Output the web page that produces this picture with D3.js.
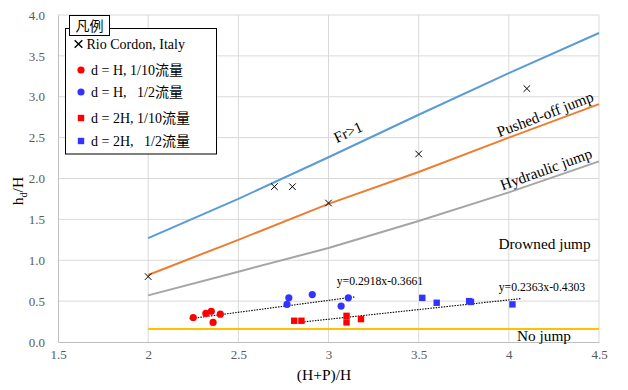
<!DOCTYPE html>
<html lang="ja">
<head>
<meta charset="UTF-8">
<title>hd/H vs (H+P)/H</title>
<script src="https://d3js.org/d3.v7.min.js"></script>
<style>
  body { margin: 0; background: #fff; }
  svg text { font-family: "Liberation Serif", "Noto Sans CJK JP", serif; }
</style>
</head>
<body>
<svg width="628" height="390"></svg>
<script>
// boundary curves
const curveX = [2.0, 2.5, 3.0, 3.5, 4.0, 4.5];
const froudeY = [1.27, 1.75, 2.26, 2.78, 3.29, 3.78];
const pushedY = [0.82, 1.25, 1.69, 2.08, 2.50, 2.91];
const hydraulicY = [0.57, 0.86, 1.15, 1.48, 1.83, 2.21];
const noJumpY = 0.16;

// Rio Cordon field points
const rioX = [2.0, 2.7, 2.8, 3.0, 3.5, 4.1];
const rioY = [0.8, 1.9, 1.9, 1.7, 2.3, 3.1];

// d = H
const h10X = [2.25, 2.32, 2.35, 2.40, 2.36];
const h10Y = [0.30, 0.35, 0.375, 0.34, 0.24];
const h2X = [2.78, 2.77, 2.91, 3.07, 3.11];
const h2Y = [0.54, 0.46, 0.58, 0.44, 0.54];

// d = 2H
const d10X = [2.81, 2.85, 3.10, 3.10, 3.18];
const d10Y = [0.26, 0.26, 0.32, 0.24, 0.28];
const d2X = [3.52, 3.60, 3.78, 3.79, 4.02];
const d2Y = [0.54, 0.48, 0.50, 0.49, 0.46];

// fitted lines
const fitH = {a: 0.2918, b: -0.3661, x0: 2.23, x1: 3.15, label: "y=0.2918x-0.3661"};
const fit2H = {a: 0.2363, b: -0.4303, x0: 2.85, x1: 4.07, label: "y=0.2363x-0.4303"};

const xTicks = [1.5, 2, 2.5, 3, 3.5, 4, 4.5];
const yTicks = [0, 0.5, 1, 1.5, 2, 2.5, 3, 3.5, 4];

const svg = d3.select("svg");
const x = d3.scaleLinear().domain([1.5, 4.5]).range([58, 599]);
const y = d3.scaleLinear().domain([0, 4]).range([342, 15]);

// gridlines
svg.append("g").selectAll("line").data(xTicks.slice(1)).join("line")
  .attr("x1", d => x(d)).attr("x2", d => x(d))
  .attr("y1", y(0)).attr("y2", y(4))
  .attr("stroke", "#d9d9d9");
svg.append("g").selectAll("line").data(yTicks.slice(1)).join("line")
  .attr("x1", x(1.5)).attr("x2", x(4.5))
  .attr("y1", d => y(d)).attr("y2", d => y(d))
  .attr("stroke", "#d9d9d9");

// axes
const xAxis = svg.append("g")
  .attr("transform", `translate(0,${y(0)})`)
  .call(d3.axisBottom(x).tickValues(xTicks).tickSize(0).tickPadding(8).tickFormat(d => String(d)));
const yAxis = svg.append("g")
  .attr("transform", `translate(${x(1.5)},0)`)
  .call(d3.axisLeft(y).tickValues(yTicks).tickSize(0).tickPadding(13).tickFormat(d3.format(".1f")));
[xAxis, yAxis].forEach(g => {
  g.select(".domain").attr("stroke", "#bfbfbf");
  g.selectAll("text").attr("fill", "#595959").style("font-size", "13px")
    .style("font-family", "Liberation Serif, serif");
});

// boundary lines
const line = d3.line().x(d => x(d[0])).y(d => y(d[1]));
const curves = [
  {ys: froudeY, color: "#5b9bd5"},
  {ys: pushedY, color: "#ed7d31"},
  {ys: hydraulicY, color: "#a5a5a5"}
];
curves.forEach(c => {
  svg.append("path")
    .datum(curveX.map((v, i) => [v, c.ys[i]]))
    .attr("d", line).attr("fill", "none")
    .attr("stroke", c.color).attr("stroke-width", 2);
});
svg.append("path")
  .datum([[2.0, noJumpY], [4.5, noJumpY]])
  .attr("d", line).attr("fill", "none")
  .attr("stroke", "#ffc000").attr("stroke-width", 2);

// trendlines
[fitH, fit2H].forEach(f => {
  svg.append("path")
    .datum([[f.x0, f.a * f.x0 + f.b], [f.x1, f.a * f.x1 + f.b]])
    .attr("d", line).attr("fill", "none")
    .attr("stroke", "#000").attr("stroke-width", 1.1)
    .attr("stroke-dasharray", "1.5,1.2");
});
svg.append("text").attr("x", 380).attr("y", 285).attr("text-anchor", "middle")
  .style("font-size", "11.7px").text(fitH.label);
svg.append("text").attr("x", 542).attr("y", 291).attr("text-anchor", "middle")
  .style("font-size", "11.7px").text(fit2H.label);

// markers
const pts = (xs, ys) => xs.map((v, i) => [v, ys[i]]);
svg.append("g").selectAll("circle").data(pts(h10X, h10Y)).join("circle")
  .attr("cx", d => x(d[0])).attr("cy", d => y(d[1])).attr("r", 3.6).attr("fill", "#ff0000");
svg.append("g").selectAll("circle").data(pts(h2X, h2Y)).join("circle")
  .attr("cx", d => x(d[0])).attr("cy", d => y(d[1])).attr("r", 3.6).attr("fill", "#3333ff");
svg.append("g").selectAll("rect").data(pts(d10X, d10Y)).join("rect")
  .attr("x", d => x(d[0]) - 3.2).attr("y", d => y(d[1]) - 3.2)
  .attr("width", 6.4).attr("height", 6.4).attr("fill", "#ff0000");
svg.append("g").selectAll("rect").data(pts(d2X, d2Y)).join("rect")
  .attr("x", d => x(d[0]) - 3.2).attr("y", d => y(d[1]) - 3.2)
  .attr("width", 6.4).attr("height", 6.4).attr("fill", "#3333ff");
const cross = d3.symbol().type(d3.symbolX).size(30);
svg.append("g").selectAll("path").data(pts(rioX, rioY)).join("path")
  .attr("transform", d => `translate(${x(d[0])},${y(d[1])})`)
  .attr("d", cross).attr("fill", "none").attr("stroke", "#000").attr("stroke-width", 1);

// region labels
const regionLabels = [
  {t: "Fr>1", cx: 348, cy: 132, rot: -25},
  {t: "Pushed-off jump", cx: 545, cy: 114, rot: -21},
  {t: "Hydraulic jump", cx: 546, cy: 169, rot: -20},
  {t: "Drowned jump", cx: 544.5, cy: 244, rot: 0},
  {t: "No jump", cx: 544, cy: 336, rot: 0}
];
svg.append("g").selectAll("text").data(regionLabels).join("text")
  .attr("transform", d => `translate(${d.cx},${d.cy}) rotate(${d.rot})`)
  .attr("text-anchor", "middle").attr("dy", "0.35em")
  .style("font-size", "15.3px").attr("fill", "#000").text(d => d.t);

// axis titles
svg.append("text").attr("x", 324).attr("y", 380).attr("text-anchor", "middle")
  .style("font-size", "15.5px").text("(H+P)/H");
const yt = svg.append("text").attr("transform", "translate(23,191) rotate(-90)")
  .attr("text-anchor", "middle").style("font-size", "15.5px");
yt.append("tspan").text("h");
yt.append("tspan").attr("dy", 4).style("font-size", "10px").text("d");
yt.append("tspan").attr("dy", -4).text("/H");

// legend
const legend = svg.append("g");
legend.append("rect").attr("x", 65.5).attr("y", 28.5).attr("width", 151).attr("height", 125.5)
  .attr("fill", "#fff").attr("stroke", "#000");
legend.append("rect").attr("x", 69.5).attr("y", 15.5).attr("width", 40).attr("height", 20)
  .attr("fill", "#fff").attr("stroke", "#000");
legend.append("text").attr("x", 89.5).attr("y", 30.5).attr("text-anchor", "middle")
  .style("font-size", "14px").style("font-family", "Noto Sans CJK JP, sans-serif").text("凡例");
const entries = [
  {t: "Rio Cordon, Italy", kind: "x", color: "#000", cy: 44},
  {t: "d = H, 1/10流量", kind: "c", color: "#ff0000", cy: 70},
  {t: "d = H,   1/2流量", kind: "c", color: "#3333ff", cy: 92},
  {t: "d = 2H, 1/10流量", kind: "s", color: "#ff0000", cy: 118},
  {t: "d = 2H,   1/2流量", kind: "s", color: "#3333ff", cy: 141}
];
entries.forEach(e => {
  if (e.kind === "x") {
    legend.append("path").attr("transform", `translate(78.5,${e.cy})`)
      .attr("d", d3.symbol().type(d3.symbolX).size(40)).attr("stroke", "#000").attr("stroke-width", 1.4);
  } else if (e.kind === "c") {
    legend.append("circle").attr("cx", 81).attr("cy", e.cy).attr("r", 3.6).attr("fill", e.color);
  } else {
    legend.append("rect").attr("x", 77.8).attr("y", e.cy - 3.2).attr("width", 6.4).attr("height", 6.4).attr("fill", e.color);
  }
  legend.append("text").attr("x", e.kind === "x" ? 86.5 : 91).attr("y", e.cy).attr("dy", "0.35em")
    .style("font-size", "14px").style("white-space", "pre").text(e.t);
});
</script>
</body>
</html>
